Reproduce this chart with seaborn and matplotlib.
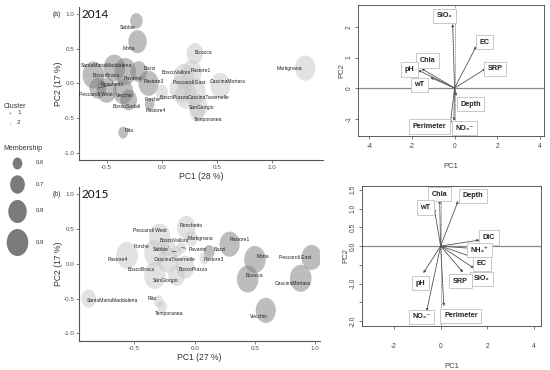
import numpy as np
import pandas as pd
import matplotlib
matplotlib.use("Agg")
import matplotlib.pyplot as plt
import seaborn as sns
from matplotlib.path import Path
from matplotlib.markers import MarkerStyle
import matplotlib.transforms as mtransforms

sns.set_theme(style="white")
plt.rcParams["font.family"] = ["Liberation Sans", "DejaVu Sans"]

# ---------------- data: 2014 site scores ----------------
sites_2014 = ["Sabbie", "Motta", "Bicocca", "SantaMariaMaddalena", "Bazzi", "BoscoValloni",
              "Pastore1", "Martignana", "BoscoBraca", "Pavarini", "Pastore3", "Ronchetto",
              "Pescaroli East", "CascinaMortara", "Pescaroli West", "Vecchio", "Forche",
              "BoscoPiazza", "CascinaTavernelle", "BoscoSodali", "SanGiorgio", "Pastore4",
              "Temporanea", "Rita"]
pc1_2014 = [-0.23, -0.22, 0.30, -0.43, -0.21, 0.20, 0.27, 1.30, -0.62, -0.33, -0.12, -0.58,
            0.17, 0.53, -0.50, -0.35, 0.00, 0.22, 0.30, -0.30, 0.33, -0.11, 0.32, -0.35]
pc2_2014 = [0.90, 0.60, 0.43, 0.22, 0.17, 0.10, 0.15, 0.22, 0.12, 0.17, 0.00, -0.07,
            -0.08, -0.03, -0.10, -0.12, -0.13, -0.17, -0.12, -0.24, -0.33, -0.30, -0.42, -0.71]
memb_2014 = [0.65, 0.80, 0.75, 0.90, 0.75, 0.85, 0.85, 0.85, 0.92, 0.90, 0.85, 0.75,
             0.95, 0.85, 0.85, 0.85, 0.65, 0.90, 0.90, 0.75, 0.80, 0.60, 0.70, 0.535]
cluster_2014 = ["1", "1", "2", "1", "1", "2", "2", "2", "1", "1", "1", "1",
                "2", "2", "1", "1", "2", "2", "2", "1", "2", "1", "2", "1"]

# ---------------- data: 2015 site scores ----------------
sites_2015 = ["Ronchetto", "Pescaroli West", "BoscoValloni", "Martignana", "Pastore1", "Forche",
              "Sabbie", "Pavarini", "Bazzi", "Pastore4", "CascinaTavernelle", "Pastore3",
              "BoscoBraca", "BoscoPiazza", "SanGiorgio", "Motta", "Pescaroli East", "Bicocca",
              "CascinaMortara", "SantaMariaMaddalena", "Rita", "Temporanea", "Vecchio"]
pc1_2015 = [-0.07, -0.29, -0.22, -0.03, 0.29, -0.33, -0.15, -0.11, 0.12, -0.56, -0.22, 0.08,
            -0.33, -0.08, -0.15, 0.50, 0.97, 0.44, 0.88, -0.88, -0.30, -0.27, 0.59]
pc2_2015 = [0.52, 0.38, 0.24, 0.36, 0.28, 0.15, 0.17, 0.23, 0.17, 0.12, 0.05, 0.08,
            -0.17, -0.05, -0.17, 0.06, 0.09, -0.22, -0.21, -0.50, -0.54, -0.62, -0.67]
memb_2015 = [0.80, 0.95, 0.70, 0.65, 0.85, 0.95, 0.60, 0.60, 0.62, 1.00, 0.85, 0.60,
             0.95, 0.80, 0.75, 0.95, 0.85, 0.90, 0.90, 0.70, 0.545, 0.545, 0.85]
cluster_2015 = ["2", "2", "2", "2", "1", "2", "2", "2", "1", "2", "2", "2",
                "2", "2", "2", "1", "1", "1", "1", "2", "2", "2", "1"]

# ---------------- data: loadings (biplots) ----------------
vars_2014 = ["SiO₂", "EC", "SRP", "Chla", "pH", "wT", "Depth", "Perimeter", "NO₃⁻"]
load1_2014 = [-0.09, 1.02, 1.47, -1.56, -1.72, -1.14, 0.08, -0.20, -0.03]
load2_2014 = [2.10, 1.37, 0.64, 0.64, 0.59, 0.35, -0.26, -1.17, -1.07]

vars_2015 = ["Chla", "wT", "Depth", "DIC", "NH₄⁺", "EC", "SiO₂", "SRP", "pH", "NO₃⁻", "Perimeter"]
load1_2015 = [-0.04, -0.27, 0.75, 1.67, 1.29, 1.39, 1.43, 0.96, -0.74, -0.60, 0.14]
load2_2015 = [1.22, 1.00, 1.20, 0.16, -0.06, -0.30, -0.59, -0.70, -0.72, -1.74, -1.60]

memb_breaks = [0.6, 0.7, 0.8, 0.9]
cluster_levels = ["1", "2"]

# ---------------- layout (label placements) ----------------
lab_2014 = {"Sabbie": (-0.31, 0.80), "Motta": (-0.30, 0.50), "Bicocca": (0.38, 0.45),
            "SantaMariaMaddalena": (-0.50, 0.255), "Bazzi": (-0.11, 0.21),
            "BoscoValloni": (0.134, 0.16), "Pastore1": (0.355, 0.19), "Martignana": (1.16, 0.21),
            "BoscoBraca": (-0.505, 0.115), "Pavarini": (-0.265, 0.067), "Pastore3": (-0.075, 0.024),
            "Ronchetto": (-0.45, -0.02), "Pescaroli East": (0.244, 0.005),
            "CascinaMortara": (0.60, 0.02), "Pescaroli West": (-0.60, -0.16),
            "Vecchio": (-0.33, -0.17), "Forche": (-0.085, -0.23), "BoscoPiazza": (0.11, -0.20),
            "CascinaTavernelle": (0.425, -0.20), "BoscoSodali": (-0.32, -0.34),
            "SanGiorgio": (0.36, -0.35), "Pastore4": (-0.05, -0.39), "Temporanea": (0.42, -0.52),
            "Rita": (-0.30, -0.68)}
lab_2015 = {"Ronchetto": (-0.03, 0.55), "Pescaroli West": (-0.37, 0.475), "BoscoValloni": (-0.17, 0.33),
            "Martignana": (0.05, 0.36), "Pastore1": (0.37, 0.34), "Forche": (-0.44, 0.24),
            "Sabbie": (-0.28, 0.20), "Pavarini": (0.03, 0.20), "Bazzi": (0.205, 0.20),
            "Pastore4": (-0.64, 0.057), "CascinaTavernelle": (-0.165, 0.06), "Pastore3": (0.155, 0.057),
            "BoscoBraca": (-0.44, -0.086), "BoscoPiazza": (-0.01, -0.08), "SanGiorgio": (-0.24, -0.24),
            "Motta": (0.57, 0.10), "Pescaroli East": (0.83, 0.087), "Bicocca": (0.50, -0.17),
            "CascinaMortara": (0.81, -0.28), "SantaMariaMaddalena": (-0.68, -0.53),
            "Rita": (-0.35, -0.50), "Temporanea": (-0.21, -0.72), "Vecchio": (0.53, -0.76)}
linked_2014 = {"Ronchetto"}
linked_2015 = {"Sabbie", "Pavarini", "BoscoValloni"}

box_2014 = [(-0.48, 2.37), (1.39, 1.50), (1.89, 0.63), (-1.27, 0.90), (-2.12, 0.61),
            (-1.66, 0.11), (0.75, -0.53), (-1.19, -1.26), (0.48, -1.32)]
box_2015 = [(-0.03, 1.38), (-0.65, 1.03), (1.39, 1.34), (2.07, 0.23), (1.65, -0.11),
            (1.77, -0.47), (1.74, -0.87), (0.85, -0.94), (-0.87, -0.99), (-0.81, -1.89),
            (0.87, -1.86)]

# ---------------- styles ----------------
pal = {"1": "#7c7c7c", "2": "#c6c6c6"}
ell_path = Path.unit_circle().transformed(mtransforms.Affine2D().scale(0.8, 1.0))
ELL = MarkerStyle(ell_path)


def area(m):
    h = np.sqrt(max(144 + 1950 * (m - 0.6), 1.0))  # marker height in px
    return (0.72 * h) ** 2


S_LO, S_HI = area(0.6), area(0.9)
TXT = "#333333"
LBL_FONT = ["Liberation Sans Narrow", "Liberation Sans", "DejaVu Sans"]

fig = plt.figure(figsize=(5.5, 3.7), dpi=100)
W, H = 550.0, 370.0


def rect(l, t, r, b):
    return [l / W, 1 - b / H, (r - l) / W, (b - t) / H]


def bubble_panel(box, sites, pc1, pc2, memb, clus, labs, linked, xlim, xlabel):
    ax = fig.add_axes(rect(*box))
    df = pd.DataFrame({"site": sites, "PC1": pc1, "PC2": pc2, "Membership": memb, "Cluster": clus})
    sns.scatterplot(data=df, x="PC1", y="PC2", hue="Cluster", size="Membership",
                    sizes=(S_LO, S_HI), size_norm=(0.6, 0.9), palette=pal, alpha=0.5,
                    marker=ELL, linewidth=0, edgecolor="none", legend=False, ax=ax)
    for s, x, y in zip(sites, pc1, pc2):
        lx, ly = labs[s]
        ap = None
        if s in linked:
            ap = dict(arrowstyle="-", lw=0.45, color="#333333", shrinkA=0, shrinkB=0)
        ax.annotate(s, xy=(x, y), xytext=(lx, ly), fontsize=3.6, color="#222222",
                    ha="center", va="center", family=LBL_FONT, arrowprops=ap)
    ax.set_xlim(*xlim)
    ax.set_ylim(-1.105, 1.1)
    ax.set_xticks([-0.5, 0.0, 0.5, 1.0])
    ax.set_yticks([-1.0, -0.5, 0.0, 0.5, 1.0])
    ax.set_xticklabels(["-0.5", "0.0", "0.5", "1.0"])
    ax.set_yticklabels(["-1.0", "-0.5", "0.0", "0.5", "1.0"])
    for sp in ["top", "right"]:
        ax.spines[sp].set_visible(False)
    for sp in ["left", "bottom"]:
        ax.spines[sp].set_color("#555555")
        ax.spines[sp].set_linewidth(0.8)
    ax.tick_params(axis="both", which="both", length=2, width=0.5, color="#555555",
                   labelsize=4.5, labelcolor="#4d4d4d", pad=1.5, left=True, bottom=True)
    ax.set_xlabel(xlabel, fontsize=6.2, color=TXT, labelpad=1.5)
    ax.set_ylabel("PC2 (17 %)", fontsize=6.2, color=TXT, labelpad=0)
    return ax


bubble_panel((79, 7, 323, 160), sites_2014, pc1_2014, pc2_2014, memb_2014, cluster_2014,
             lab_2014, linked_2014, (-0.75, 1.46), "PC1 (28 %)")
bubble_panel((79, 187, 320, 340.7), sites_2015, pc1_2015, pc2_2015, memb_2015, cluster_2015,
             lab_2015, linked_2015, (-0.96, 1.04), "PC1 (27 %)")

fig.text(57 / W, 1 - 14 / H, "(a)", fontsize=5, color=TXT, ha="center", va="center")
fig.text(82 / W, 1 - 14 / H, "2014", fontsize=8.5, color="#111111", ha="left", va="center",
         family=["Lato", "DejaVu Sans"])
fig.text(57 / W, 1 - 194 / H, "(b)", fontsize=5, color=TXT, ha="center", va="center")
fig.text(82 / W, 1 - 194 / H, "2015", fontsize=8.5, color="#111111", ha="left", va="center",
         family=["Lato", "DejaVu Sans"])


def biplot(box, names, l1, l2, boxes, xlim, ylim, xt, yt, ytl, xpad, xlpad):
    ax = fig.add_axes(rect(*box))
    ax.axhline(0, color="#8a8a8a", lw=0.9, zorder=1)
    ax.axvline(0, color="#666666", lw=0.6, ls=(0, (1, 1)), zorder=1)
    for n, x, y, (bx, by) in zip(names, l1, l2, boxes):
        ax.annotate("", xy=(x, y), xytext=(0, 0),
                    arrowprops=dict(arrowstyle="-|>", lw=0.6, color="#555555",
                                    mutation_scale=3.5, shrinkA=0, shrinkB=0), zorder=2)
        ax.text(bx, by, n, fontsize=5.2, fontweight="bold", color="#222222",
                ha="center", va="center", zorder=3,
                bbox=dict(boxstyle="square,pad=0.5", fc="white", ec="#c8c8c8", lw=0.7))
    ax.set_xlim(*xlim)
    ax.set_ylim(*ylim)
    ax.set_xticks(xt)
    ax.set_xticklabels([str(v) for v in xt])
    ax.set_yticks(yt)
    ax.set_yticklabels(ytl, rotation=90, va="center")
    for sp in ax.spines.values():
        sp.set_visible(True)
        sp.set_color("#444444")
        sp.set_linewidth(0.6)
    ax.tick_params(axis="both", length=2.5, width=0.5, color="#444444", labelsize=4.8,
                   labelcolor="#444444", pad=1, left=True, bottom=True, direction="out")
    ax.tick_params(axis="x", pad=xpad)
    ax.set_xlabel("PC1", fontsize=5.5, color="#444444", labelpad=xlpad)
    ax.set_ylabel("PC2", fontsize=5.5, color="#444444", labelpad=0)
    ax.grid(False)
    return ax


biplot((357.7, 5, 544, 135.7), vars_2014, load1_2014, load2_2014, box_2014,
       (-4.55, 4.2), (-1.56, 2.72), [-4, -2, 0, 2, 4], [-1, 0, 1, 2], ["-1", "0", "1", "2"],
       3, 9)
biplot((361.7, 186, 541, 326), vars_2015, load1_2015, load2_2015, box_2015,
       (-3.38, 4.3), (-2.13, 1.6), [-2, 0, 2, 4],
       [-2.0, -1.5, -1.0, -0.5, 0.0, 0.5, 1.0, 1.5],
       ["-2.0", "", "-1.0", "", "0.0", "0.5", "1.0", "1.5"], 10, 9)

# ---------------- legends (left) ----------------
axL = fig.add_axes([0, 0, 1, 1], zorder=-1)
axL.set_xlim(0, W)
axL.set_ylim(H, 0)
axL.axis("off")
axL.text(4, 106, "Cluster", fontsize=5, color=TXT, va="center", ha="left")
for i, c in enumerate(cluster_levels):
    yy = 112.5 + 10 * i
    axL.scatter([10], [yy], s=1.2, color=pal[c], linewidths=0)
    axL.text(17, yy, c, fontsize=4.5, color=TXT, va="center", ha="left")
axL.text(3, 149, "Membership", fontsize=5, color=TXT, va="center", ha="left")
heights = [np.sqrt(144 + 1950 * (m - 0.6)) for m in memb_breaks]
ys = [163.0]
for i in range(1, len(heights)):
    ys.append(ys[-1] + (heights[i - 1] + heights[i]) / 2 + 6)
for m, yy in zip(memb_breaks, ys):
    axL.scatter([17], [yy], s=area(m), marker=ELL, color="#7a7a7a", linewidths=0)
    axL.text(36, yy, f"{m:.1f}", fontsize=4.3, color=TXT, va="center", ha="left")

fig.savefig("out.png", dpi=100)
